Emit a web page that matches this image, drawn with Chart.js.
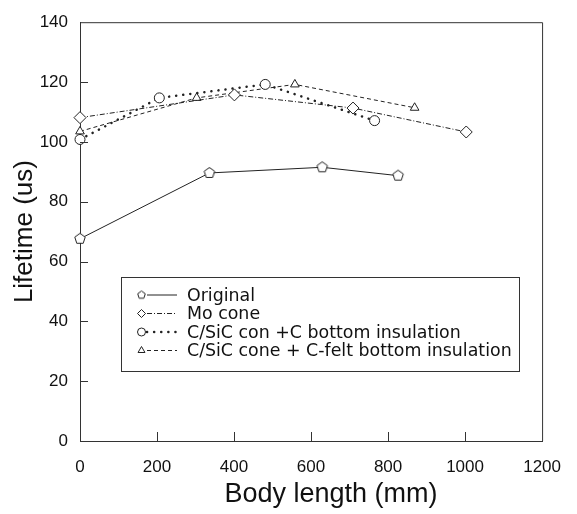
<!DOCTYPE html>
<html>
<head>
<meta charset="utf-8">
<script src="https://cdn.jsdelivr.net/npm/chart.js@4/dist/chart.umd.min.js"></script>
<style>
  html, body { margin: 0; background: #fff; }
  #wrap { width: 577px; height: 514px; }
</style>
</head>
<body>
<div id="wrap"><canvas id="chart"></canvas></div>
<script>
// values
const originalX = [0, 336, 629, 826];
const originalY = [67.6, 89.6, 91.5, 88.7];
const moConeX = [0, 401, 709, 1003];
const moConeY = [108.1, 115.7, 111.3, 103.3];
const sicCX = [0, 206, 481, 765];
const sicCY = [100.8, 114.7, 119.2, 107.1];
const sicFeltX = [0, 303, 558, 869];
const sicFeltY = [103.5, 114.7, 119.2, 111.4];
const xTicks = [0, 200, 400, 600, 800, 1000, 1200];
const yTicks = [0, 20, 40, 60, 80, 100, 120, 140];
const seriesNames = ['Original', 'Mo cone', 'C/SiC con +C bottom insulation', 'C/SiC cone + C-felt bottom insulation'];
const xTitle = 'Body length (mm)';

const INK = '#222';

function pentagon(r) {
  const c = document.createElement('canvas');
  const s = Math.ceil(2 * r + 3);
  c.width = s; c.height = s;
  const g = c.getContext('2d');
  g.beginPath();
  for (let i = 0; i < 5; i++) {
    const a = -Math.PI / 2 + i * 2 * Math.PI / 5;
    const px = s / 2 + r * Math.cos(a), py = s / 2 + r * Math.sin(a);
    i ? g.lineTo(px, py) : g.moveTo(px, py);
  }
  g.closePath();
  g.fillStyle = '#fff'; g.fill();
  g.strokeStyle = INK; g.lineWidth = 1; g.stroke();
  return c;
}

const pentBig = pentagon(5.5);
const pentSmall = pentagon(4);

const pts = (xs, ys) => xs.map((x, i) => ({ x, y: ys[i] }));

const base = {
  borderColor: INK, borderWidth: 1, pointBackgroundColor: '#fff', clip: false,
  pointBorderColor: INK, pointBorderWidth: 1, pointRadius: 5, tension: 0, fill: false
};

const datasets = [
  { ...base, label: seriesNames[0], data: pts(originalX, originalY), pointStyle: pentBig, legendStyle: pentSmall, borderDash: [] },
  { ...base, label: seriesNames[1], data: pts(moConeX, moConeY), pointStyle: 'rectRot', pointRadius: 6, borderDash: [5, 2, 1, 2] },
  { ...base, label: seriesNames[2], data: pts(sicCX, sicCY), pointStyle: 'circle', borderWidth: 2.5, borderDash: [0.1, 7], borderCapStyle: 'round' },
  { ...base, label: seriesNames[3], data: pts(sicFeltX, sicFeltY), pointStyle: 'triangle', borderDash: [4, 3] }
];

const frame = {
  id: 'frame',
  afterDraw(chart) {
    const { ctx, chartArea: a, scales: { x, y } } = chart;
    ctx.save();
    ctx.strokeStyle = '#333';
    ctx.lineWidth = 1;
    ctx.beginPath();
    ctx.moveTo(a.left, a.top + 0.5); ctx.lineTo(a.right + 0.5, a.top + 0.5); ctx.lineTo(a.right + 0.5, a.bottom);
    // inner ticks
    yTicks.slice(1, -1).forEach(v => {
      const py = Math.round(y.getPixelForValue(v)) + 0.5;
      ctx.moveTo(a.left, py); ctx.lineTo(a.left + 8, py);
    });
    xTicks.slice(1, -1).forEach(v => {
      const px = Math.round(x.getPixelForValue(v)) + 0.5;
      ctx.moveTo(px, a.bottom); ctx.lineTo(px, a.bottom - 9);
    });
    ctx.stroke();

    // x axis title, a bit right of centre as in the figure
    ctx.fillStyle = '#111';
    ctx.font = '27px "Liberation Sans"';
    ctx.textAlign = 'center';
    ctx.textBaseline = 'middle';
    ctx.fillText(xTitle, 331, 495);

    // legend box
    const L = 121.5, T = 277.5, R = 519.5, B = 371.5;
    ctx.strokeRect(L, T, R - L, B - T);
    const rows = [295, 313.5, 332, 350.5];
    ctx.font = '17.4px "DejaVu Sans"';
    ctx.textAlign = 'left';
    chart.data.datasets.forEach((ds, i) => {
      const ry = rows[i];
      ctx.save();
      ctx.strokeStyle = INK;
      ctx.lineWidth = ds.borderWidth;
      ctx.lineCap = ds.borderCapStyle || 'butt';
      ctx.setLineDash(ds.borderDash || []);
      ctx.beginPath();
      ctx.moveTo(147, ry); ctx.lineTo(177, ry);
      ctx.stroke();
      ctx.restore();
      ctx.save();
      ctx.strokeStyle = INK; ctx.fillStyle = '#fff';
      Chart.helpers.drawPoint(ctx, { pointStyle: ds.legendStyle || ds.pointStyle, radius: 4, borderWidth: 1, rotation: 0 }, 141.5, ry);
      ctx.restore();
      ctx.fillText(ds.label, 187, ry + 1);
    });
    ctx.restore();
  }
};

new Chart(document.getElementById('chart'), {
  type: 'line',
  data: { datasets },
  plugins: [frame],
  options: {
    responsive: true,
    maintainAspectRatio: false,
    animation: false,
    layout: { padding: { top: 11, right: 19, left: 0, bottom: 0 } },
    plugins: { legend: { display: false }, tooltip: { enabled: false } },
    scales: {
      x: {
        type: 'linear', min: 0, max: 1200,
        afterBuildTicks: s => { s.ticks = xTicks.map(v => ({ value: v })); },
        afterFit: s => { s.height = 73; },
        grid: { display: false, drawTicks: false },
        border: { display: true, color: '#333', width: 1 },
        ticks: { padding: 16, color: '#111', font: { family: 'Liberation Sans', size: 17 }, maxRotation: 0, callback: v => String(v) }
      },
      y: {
        min: 0, max: 140,
        afterBuildTicks: s => { s.ticks = yTicks.map(v => ({ value: v })); },
        afterFit: s => { s.width = 80; },
        grid: { display: false, drawTicks: false },
        border: { display: true, color: '#333', width: 1 },
        ticks: { padding: 12, color: '#111', font: { family: 'Liberation Sans', size: 17 }, callback: v => String(v) },
        title: { display: true, text: 'Lifetime (us)', color: '#111', font: { family: 'Liberation Sans', size: 26 }, padding: { top: 9, bottom: 0 } }
      }
    }
  }
});
</script>
</body>
</html>
